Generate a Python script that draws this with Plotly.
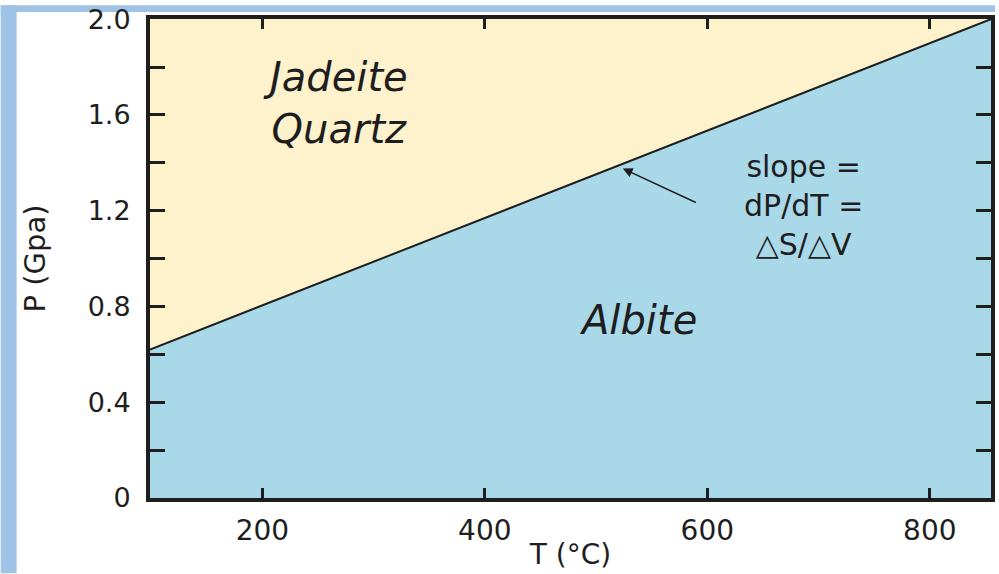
import plotly.graph_objects as go

# Data
T_range = [99, 855]
P_range = [0, 2.0005]
boundary_T = [99, 855]
boundary_P = [0.62, 2.0]
y_tickvals = [0, 0.4, 0.8, 1.2, 1.6, 2.0]
y_ticktext = ["0", "0.4", "0.8", "1.2", "1.6", "2.0"]
x_tickvals = [200, 400, 600, 800]

CREAM = "#FDF2CC"
BLUE = "#A9D8E8"
DARK = "#1E1E1E"
FRAME = "#9FC3E7"
FONT = "DejaVu Sans, Liberation Sans, Arial, sans-serif"

fig = go.Figure()
# Albite field (below boundary)
fig.add_trace(go.Scatter(
    x=[boundary_T[0], boundary_T[0], boundary_T[1], boundary_T[1]],
    y=[0, boundary_P[0], boundary_P[1], 0],
    fill="toself", fillcolor=BLUE, mode="none", hoverinfo="skip", showlegend=False))
# Jadeite + Quartz field (above boundary)
fig.add_trace(go.Scatter(
    x=[boundary_T[0], boundary_T[0], boundary_T[1]],
    y=[boundary_P[0], P_range[1], boundary_P[1]],
    fill="toself", fillcolor=CREAM, mode="none", hoverinfo="skip", showlegend=False))
# Boundary line
fig.add_trace(go.Scatter(x=boundary_T, y=boundary_P, mode="lines",
                         line=dict(color=DARK, width=2), showlegend=False))

fig.add_annotation(x=266, y=1.65, text="<i>Jadeite<br>Quartz</i>", showarrow=False,
                   font=dict(family=FONT, size=40, color=DARK), align="center")
fig.add_annotation(x=538, y=0.744, text="<i>Albite</i>", showarrow=False,
                   font=dict(family=FONT, size=40, color=DARK))
fig.add_annotation(x=686, y=1.22, text="slope =<br>dP/dT =<br>△S/△V", showarrow=False,
                   font=dict(family=FONT, size=30, color=DARK), align="center")
fig.add_annotation(x=524, y=1.376, ax=591, ay=1.231, axref="x", ayref="y",
                   xref="x", yref="y", text="", showarrow=True,
                   arrowhead=2, arrowsize=1.3, arrowwidth=1.5, arrowcolor=DARK)

# Light-blue frame strips (left and top)
fig.add_shape(type="rect", xref="paper", yref="paper",
              x0=-150/845, x1=-134/845, y0=-76/484, y1=(484+14)/484,
              fillcolor=FRAME, line_width=0, layer="below")
fig.add_shape(type="rect", xref="paper", yref="paper",
              x0=-150/845, x1=(845+4)/845, y0=(484+7)/484, y1=(484+14)/484,
              fillcolor=FRAME, line_width=0, layer="below")

fig.update_xaxes(range=T_range, tickvals=x_tickvals, ticks="inside", ticklen=10,
                 tickwidth=3, tickcolor=DARK, showline=True, linewidth=4,
                 linecolor=DARK, mirror="ticks", showgrid=False, zeroline=False,
                 ticklabelstandoff=4,
                 tickfont=dict(family=FONT, size=28, color=DARK),
                 title=dict(text="T (°C)", font=dict(family=FONT, size=28, color=DARK),
                            standoff=0))
fig.update_yaxes(range=P_range, tickvals=y_tickvals, ticktext=y_ticktext,
                 ticks="inside", ticklen=15, tickwidth=3, tickcolor=DARK,
                 minor=dict(dtick=0.2, tick0=0, ticks="inside", ticklen=15,
                            tickwidth=3, tickcolor=DARK),
                 showline=True, linewidth=4, linecolor=DARK, mirror="ticks",
                 showgrid=False, zeroline=False, ticklabelstandoff=10,
                 ticklabeloverflow="allow",
                 tickfont=dict(family=FONT, size=27, color=DARK),
                 title=dict(text="P (Gpa)", font=dict(family=FONT, size=29, color=DARK),
                            standoff=34))

fig.update_layout(width=999, height=574, margin=dict(l=150, r=4, t=14, b=76),
                  paper_bgcolor="white", plot_bgcolor=BLUE)

fig.write_html("out.html", config={"displayModeBar": False},
               post_script="document.body.style.margin='0';document.body.style.overflow='hidden';")
